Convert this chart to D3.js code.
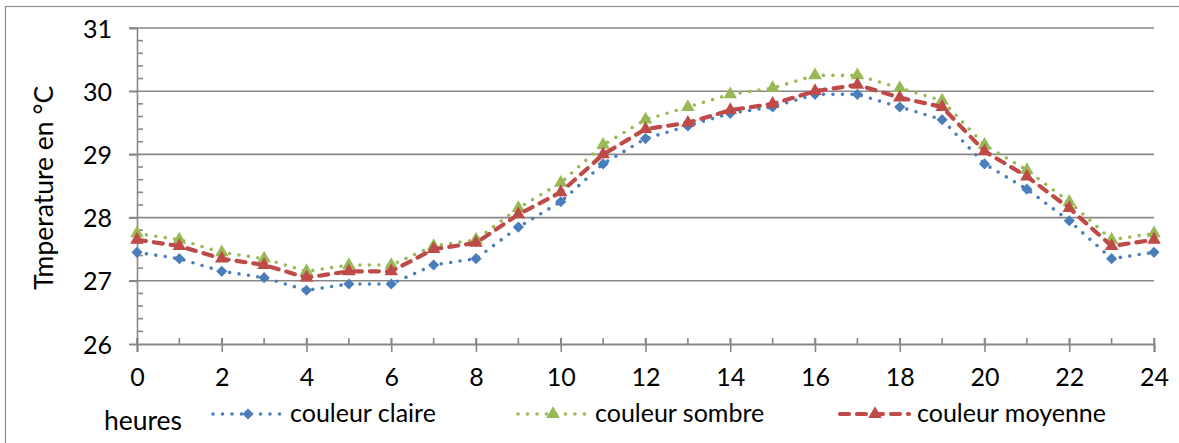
<!DOCTYPE html>
<html><head><meta charset="utf-8">
<script src="https://cdn.jsdelivr.net/npm/d3@7"></script>
<style>html,body{margin:0;padding:0;background:#fff;}svg{display:block;}</style>
</head><body>
<svg id="c" width="1179" height="443"></svg>
<script>
const hours = d3.range(0, 25);
const xTicks = [0,2,4,6,8,10,12,14,16,18,20,22,24];
const yTicks = [26,27,28,29,30,31];
const seriesNames = ["couleur claire", "couleur sombre", "couleur moyenne"];
const claire = [27.45,27.35,27.15,27.05,26.85,26.95,26.95,27.25,27.35,27.85,28.25,28.85,29.25,29.45,29.65,29.75,29.95,29.95,29.75,29.55,28.85,28.45,27.95,27.35,27.45];
const sombre = [27.75,27.65,27.45,27.35,27.15,27.25,27.25,27.55,27.65,28.15,28.55,29.15,29.55,29.75,29.95,30.05,30.25,30.25,30.05,29.85,29.15,28.75,28.25,27.65,27.75];
const moyenne = [27.65,27.55,27.35,27.25,27.05,27.15,27.15,27.5,27.6,28.05,28.4,29.0,29.4,29.5,29.7,29.8,30.0,30.1,29.9,29.75,29.05,28.65,28.15,27.55,27.65];
const yTitle = "Tmperature en °C";
const xTitle = "heures";

const FONT = "Lato, 'Open Sans', sans-serif";
const FS = 25;
const FT = 26.5;
const svg = d3.select("#c");
const x = d3.scaleLinear().domain([0,24]).range([137,1154]);
const y = d3.scaleLinear().domain([26,31]).range([344,28]);
const gridCol = "#878787";

// frame
svg.append("rect").attr("x",5.5).attr("y",6.5).attr("width",1200).attr("height",500)
  .attr("fill","none").attr("stroke","#8c8c8c").attr("stroke-width",1.2);

// gridlines
svg.append("g").selectAll("line").data(yTicks.filter(d=>d>26)).join("line")
  .attr("x1",129).attr("x2",x(24)).attr("y1",d=>y(d)).attr("y2",d=>y(d))
  .attr("stroke",gridCol).attr("stroke-width",1.6);

// y axis
const yAxis = d3.axisLeft(y).tickValues(yTicks).tickSize(8).tickPadding(17).tickFormat(d3.format("d"));
const gy = svg.append("g").attr("transform",`translate(${x(0)},0)`).call(yAxis);
gy.select(".domain").attr("stroke",gridCol).attr("stroke-width",1.6);
gy.selectAll(".tick line").attr("stroke",gridCol).attr("stroke-width",1.6);
gy.selectAll("text").attr("font-family",FONT).attr("font-size",FS).attr("fill","#000").attr("dy","0.36em");
// y minor ticks (inside)
const yMinor = d3.range(26,31.001,0.2).filter(v=>Math.abs(v-Math.round(v))>0.01);
svg.append("g").selectAll("line").data(yMinor).join("line")
  .attr("x1",x(0)).attr("x2",x(0)+6).attr("y1",d=>y(d)).attr("y2",d=>y(d))
  .attr("stroke",gridCol).attr("stroke-width",1.6);

// x axis
const xAxis = d3.axisBottom(x).tickValues(xTicks).tickSize(8).tickPadding(16).tickFormat(d3.format("d"));
const gx = svg.append("g").attr("transform",`translate(0,${y(26)})`).call(xAxis);
gx.select(".domain").attr("stroke",gridCol).attr("stroke-width",2);
gx.selectAll(".tick line").attr("stroke",gridCol).attr("stroke-width",1.6).attr("y1",-6);
gx.selectAll("text").attr("font-family",FONT).attr("font-size",FS).attr("fill","#000");
svg.append("g").selectAll("line").data(hours).join("line")
  .attr("x1",d=>x(d)).attr("x2",d=>x(d)).attr("y1",y(26)-6).attr("y2",y(26))
  .attr("stroke",gridCol).attr("stroke-width",1.6);

// titles
svg.append("text").attr("transform","translate(53,188) rotate(-90)").attr("text-anchor","middle")
  .attr("font-family",FONT).attr("font-size",FT).text(yTitle);
svg.append("text").attr("x",143).attr("y",430).attr("text-anchor","middle")
  .attr("font-family",FONT).attr("font-size",FT).text(xTitle);

// series
const series = [
  {name:seriesNames[0], vals:claire, color:"#4a7ebb", dash:"0 9.5", width:3.6, marker:"diamond", lx:213},
  {name:seriesNames[1], vals:sombre, color:"#98b954", dash:"0 9.5", width:3.6, marker:"triangle", lx:518},
  {name:seriesNames[2], vals:moyenne, color:"#be4b48", dash:"9 8", width:4.2, marker:"triangle", lx:840}
];
const line = d3.line().x((d,i)=>x(hours[i])).y(d=>y(d));
const sym = {diamond:d3.symbol().type(d3.symbolSquare).size(62), triangle:d3.symbol().type(d3.symbolTriangle).size(80)};
const rot = {diamond:" rotate(45)", triangle:""};

series.forEach(s=>{
  const g = svg.append("g");
  g.append("path").datum(s.vals).attr("d",line).attr("fill","none")
    .attr("stroke",s.color).attr("stroke-width",s.width).attr("stroke-dasharray",s.dash)
    .attr("stroke-linecap","round").attr("stroke-linejoin","round");
  g.selectAll("path.m").data(s.vals).join("path").attr("class","m")
    .attr("d",sym[s.marker]).attr("transform",(d,i)=>`translate(${x(hours[i])},${y(d)})${rot[s.marker]}`)
    .attr("fill",s.color);
  // legend
  const lg = svg.append("g");
  lg.append("line").attr("x1",s.lx).attr("x2",s.lx+69).attr("y1",414).attr("y2",414)
    .attr("stroke",s.color).attr("stroke-width",s.width).attr("stroke-dasharray",s.dash)
    .attr("stroke-linecap","round");
  lg.append("path").attr("d",sym[s.marker]).attr("transform",`translate(${s.lx+35},414)${rot[s.marker]}`).attr("fill",s.color);
  lg.append("text").attr("x",s.lx+77).attr("y",422).attr("font-family",FONT).attr("font-size",FS).text(s.name);
});
</script>
</body></html>
